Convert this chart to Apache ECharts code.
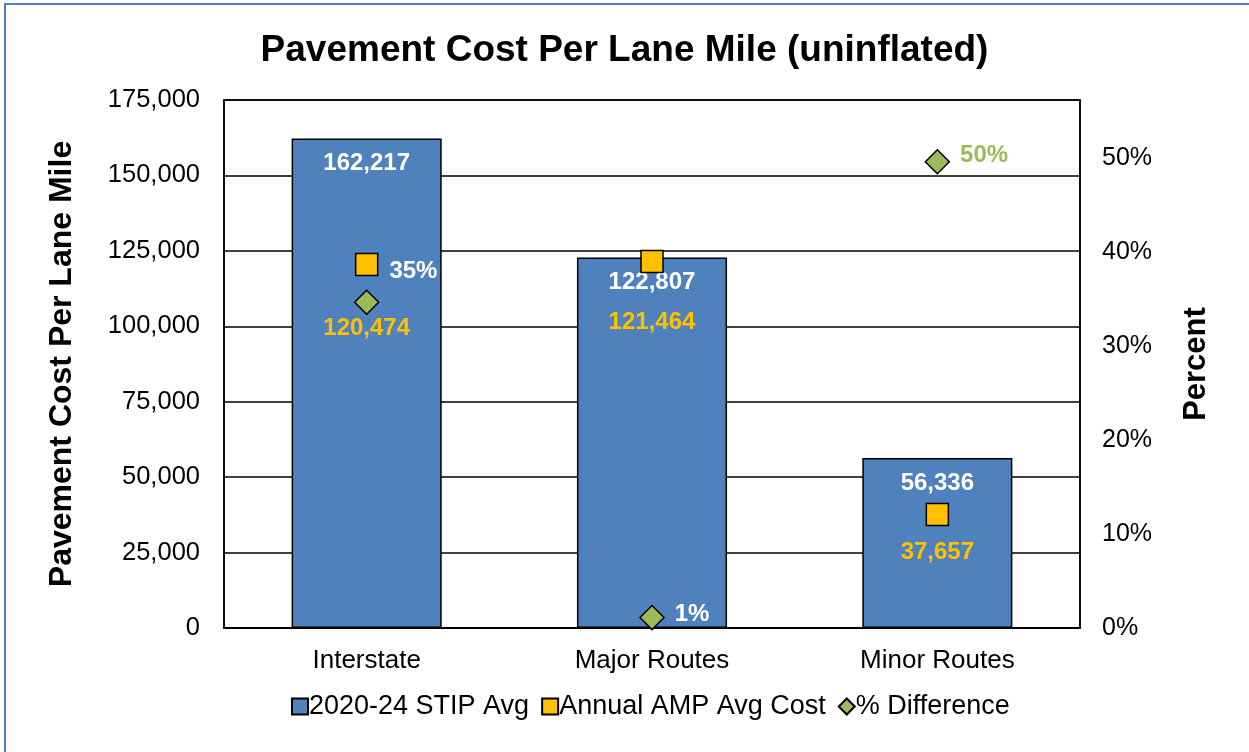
<!DOCTYPE html>
<html>
<head>
<meta charset="utf-8">
<title>Pavement Cost Per Lane Mile</title>
<script src="https://cdn.jsdelivr.net/npm/echarts@6/dist/echarts.min.js"></script>
<style>
  html, body { margin: 0; padding: 0; background: #ffffff; }
  #chart { width: 1249px; height: 752px; }
</style>
</head>
<body>
<div id="chart"></div>
<script>
// Route classes along the x axis
const categories = ['Interstate', 'Major Routes', 'Minor Routes'];
// 2020-24 STIP average cost per lane mile
const stipAvg = [162217, 122807, 56336];
// Annual AMP average cost per lane mile
const ampAvg = [120474, 121464, 37657];
// Percent difference between the two (fraction)
const pctDiff = [0.3465, 0.0111, 0.496];
// Left-axis ticks
const costTicks = { min: 0, max: 175000, interval: 25000 };
// Right-axis ticks (top of axis sits a little above 50%)
const pctTicks = { min: 0, max: 0.5617, interval: 0.1 };

const FONT = 'Liberation Sans, Arial, sans-serif';
const fmtNum = v => Math.round(v).toLocaleString('en-US');
const fmtPct = v => Math.round(v * 100) + '%';

// per-point label placement for the AMP squares (gap below marker)
const ampLabelGap = [40, 37, 14];
// per-point label placement for the percent diamonds
const pctLabelStyle = [
  { offset: [0, -31], color: '#ffffff' },
  { offset: [0, -3], color: '#ffffff' },
  { offset: [0, -6], color: '#9BBB59' }
];

const chart = echarts.init(document.getElementById('chart'), null, { renderer: 'canvas' });

chart.setOption({
  backgroundColor: '#ffffff',
  animation: false,
  textStyle: { fontFamily: FONT },
  graphic: [{
    type: 'rect',
    shape: { x: 5, y: 4, width: 1400, height: 900 },
    style: { fill: 'none', stroke: '#4F81BD', lineWidth: 2 },
    silent: true
  }],
  title: {
    text: 'Pavement Cost Per Lane Mile (uninflated)',
    left: 'center',
    top: 27,
    textStyle: { fontFamily: FONT, fontSize: 37, fontWeight: 'bold', color: '#000' }
  },
  legend: {
    bottom: 27,
    left: 286,
    itemWidth: 16,
    itemHeight: 16,
    itemGap: 12,
    textStyle: { fontFamily: FONT, fontSize: 27, color: '#000', padding: [0, 0, 0, -4] },
    data: [
      { name: '2020-24 STIP Avg', icon: 'rect' },
      { name: 'Annual AMP Avg Cost', icon: 'rect' },
      { name: '% Difference', icon: 'diamond' }
    ]
  },
  grid: {
    left: 224, right: 169, top: 100, bottom: 124,
    show: true, borderColor: '#000', borderWidth: 1.5
  },
  xAxis: {
    type: 'category',
    data: categories,
    axisLine: { lineStyle: { color: '#000', width: 1.5 } },
    axisTick: { show: false },
    axisLabel: { fontFamily: FONT, fontSize: 26, color: '#000', margin: 20 }
  },
  yAxis: [{
    type: 'value',
    min: costTicks.min, max: costTicks.max, interval: costTicks.interval,
    name: 'Pavement Cost Per Lane Mile',
    nameLocation: 'middle',
    nameGap: 146,
    nameTextStyle: { fontFamily: FONT, fontSize: 32, fontWeight: 'bold', color: '#000' },
    axisLine: { show: true, lineStyle: { color: '#000', width: 1.5 } },
    axisTick: { show: false },
    axisLabel: { fontFamily: FONT, fontSize: 25.5, color: '#000', margin: 24, formatter: fmtNum },
    splitLine: { show: true, lineStyle: { color: '#000', width: 1.5 } }
  }, {
    type: 'value',
    min: pctTicks.min, max: pctTicks.max, interval: pctTicks.interval,
    name: 'Percent',
    nameLocation: 'middle',
    nameGap: 101,
    nameRotate: 90,
    nameTextStyle: { fontFamily: FONT, fontSize: 31, fontWeight: 'bold', color: '#000' },
    axisLine: { show: true, lineStyle: { color: '#000', width: 1.5 } },
    axisTick: { show: false },
    axisLabel: { fontFamily: FONT, fontSize: 25, color: '#000', margin: 22, formatter: fmtPct, showMaxLabel: false },
    splitLine: { show: false }
  }],
  series: [{
    name: '2020-24 STIP Avg',
    type: 'bar',
    yAxisIndex: 0,
    barWidth: '52.6%',
    data: stipAvg,
    itemStyle: { color: '#4F81BD', borderColor: '#000', borderWidth: 1.5 },
    label: {
      show: true, position: 'insideTop', distance: 13,
      fontFamily: FONT, fontSize: 24, fontWeight: 'bold', color: '#ffffff',
      formatter: p => fmtNum(p.value)
    },
    z: 2
  }, {
    name: 'Annual AMP Avg Cost',
    type: 'scatter',
    yAxisIndex: 0,
    symbol: 'rect',
    symbolSize: 22,
    data: ampAvg.map((v, i) => ({ value: v, label: { distance: ampLabelGap[i] } })),
    itemStyle: { color: '#FFC000', borderColor: '#000', borderWidth: 1.5, opacity: 1 },
    label: {
      show: true, position: 'bottom',
      fontFamily: FONT, fontSize: 24, fontWeight: 'bold', color: '#FFC000',
      formatter: p => fmtNum(p.value)
    },
    z: 4
  }, {
    name: '% Difference',
    type: 'scatter',
    yAxisIndex: 1,
    symbol: 'diamond',
    symbolSize: [24, 24],
    data: pctDiff.map((v, i) => ({ value: v, label: pctLabelStyle[i] })),
    itemStyle: { color: '#9BBB59', borderColor: '#000', borderWidth: 1.5, opacity: 1 },
    label: {
      show: true, position: 'right', distance: 10,
      fontFamily: FONT, fontSize: 24, fontWeight: 'bold',
      formatter: p => fmtPct(p.value)
    },
    z: 5
  }]
});
</script>
</body>
</html>
